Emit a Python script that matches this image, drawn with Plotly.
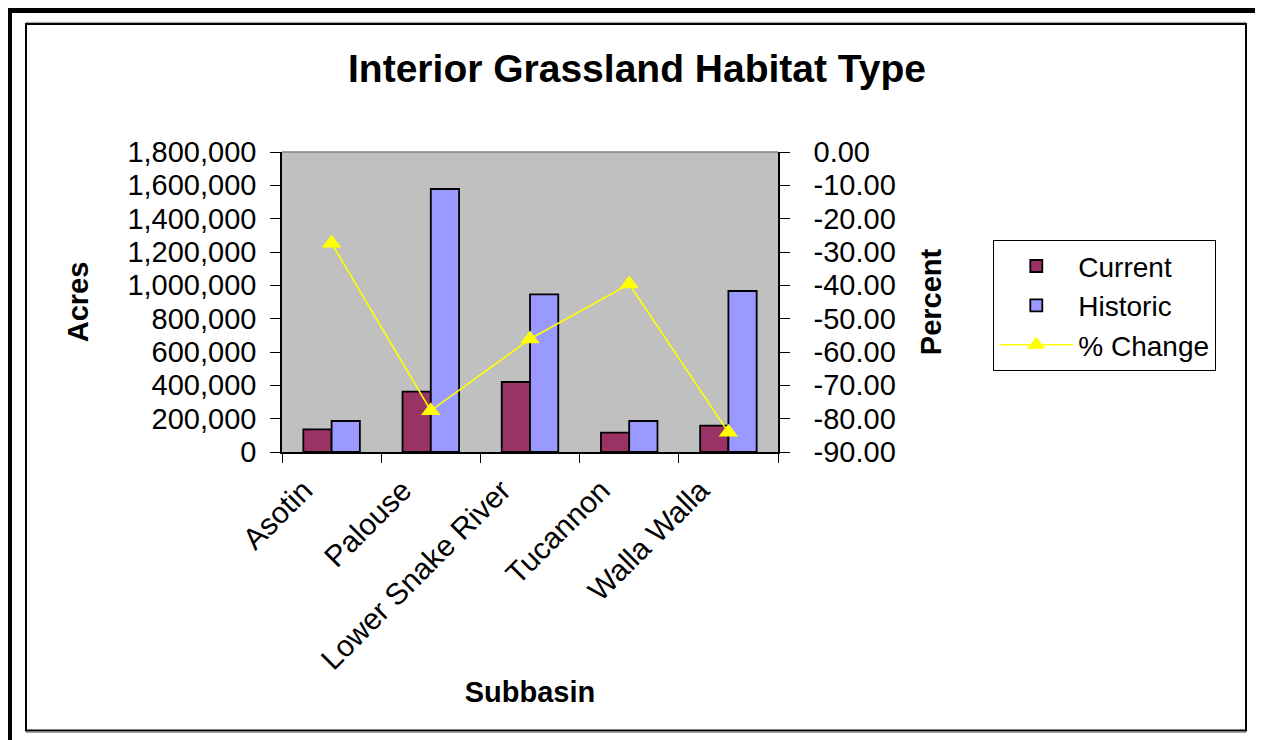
import plotly.graph_objects as go

# ---- data ----
subbasins = ["Asotin", "Palouse", "Lower Snake River", "Tucannon", "Walla Walla"]
current = [136000, 362000, 420000, 116000, 158000]
historic = [186000, 1578000, 946000, 186000, 966000]
pct_change = [-27.4, -77.6, -56.1, -39.6, -84.1]

acre_ticks = [0, 200000, 400000, 600000, 800000, 1000000, 1200000, 1400000, 1600000, 1800000]
acre_labels = ["0", "200,000", "400,000", "600,000", "800,000", "1,000,000",
               "1,200,000", "1,400,000", "1,600,000", "1,800,000"]
pct_ticks = [0, -10, -20, -30, -40, -50, -60, -70, -80, -90]
pct_labels = ["0.00", "-10.00", "-20.00", "-30.00", "-40.00", "-50.00",
              "-60.00", "-70.00", "-80.00", "-90.00"]

# ---- geometry (page body has an 8px margin) ----
OFF = 8
W, H = 1263 - OFF, 740 - OFF
L, R, T, B = 282, 778, 152, 452          # plot area in page pixels
PW, PH = R - L, B - T


def px(x):
    return (x - L) / PW


def py(y):
    return (B - y) / PH


FONT = "Liberation Sans, Arial, sans-serif"

fig = go.Figure()
fig.add_trace(go.Bar(
    x=subbasins, y=current, name="Current",
    marker=dict(color="#993366", line=dict(color="black", width=1.8)),
))
fig.add_trace(go.Bar(
    x=subbasins, y=historic, name="Historic",
    marker=dict(color="#9999FF", line=dict(color="black", width=1.8)),
))
fig.add_trace(go.Scatter(
    x=subbasins, y=pct_change, name="% Change", yaxis="y2",
    mode="lines+markers",
    line=dict(color="#FFFF00", width=1.6),
    marker=dict(symbol="triangle-up", size=17, color="#FFFF00"),
))

shapes = [
    # outer thick frame (top, left, right)
    dict(type="rect", xref="paper", yref="paper", x0=px(5), x1=px(1263), y0=py(7), y1=py(13),
         fillcolor="black", line=dict(width=0), layer="above"),
    dict(type="rect", xref="paper", yref="paper", x0=px(5), x1=px(12), y0=py(7), y1=py(741),
         fillcolor="black", line=dict(width=0), layer="above"),
    dict(type="rect", xref="paper", yref="paper", x0=px(1256), x1=px(1263), y0=py(7), y1=py(741),
         fillcolor="black", line=dict(width=0), layer="above"),
    # inner chart-area border with a light shadow
    dict(type="rect", xref="paper", yref="paper", x0=px(26), x1=px(1246), y0=py(24), y1=py(730.5),
         line=dict(color="black", width=2), layer="above"),
    dict(type="line", xref="paper", yref="paper", x0=px(26), x1=px(1246), y0=py(22.3), y1=py(22.3),
         line=dict(color="#A0A0A0", width=1), layer="above"),
    dict(type="line", xref="paper", yref="paper", x0=px(26), x1=px(1246), y0=py(732.5), y1=py(732.5),
         line=dict(color="#A0A0A0", width=1), layer="above"),
    # top border of plot area
    dict(type="line", xref="paper", yref="paper", x0=0, x1=1, y0=1, y1=1,
         line=dict(color="#808080", width=1.5), layer="above"),
]

fig.update_layout(
    width=W, height=H,
    margin=dict(l=L - OFF, r=W - (R - OFF), t=T - OFF, b=H - (B - OFF), pad=0),
    paper_bgcolor="white",
    plot_bgcolor="#C0C0C0",
    font=dict(family=FONT, size=29, color="black"),
    barmode="group",
    bargap=0.43,
    bargroupgap=0.0,
    title=dict(text="<b>Interior Grassland Habitat Type</b>", x=(637 - OFF) / W, xref="container",
               xanchor="center", y=1 - (68 - OFF) / H, yanchor="middle",
               font=dict(family=FONT, size=39, color="black")),
    xaxis=dict(
        type="category", tickson="boundaries", ticks="outside", ticklen=9, tickwidth=1.3,
        tickcolor="black", tickangle=-45, showline=True, linecolor="black", linewidth=1.5,
        showgrid=False, zeroline=False, tickfont=dict(size=30),
        ticklabelshift=-28, ticklabelstandoff=7,
        title=dict(text="<b>Subbasin</b>", font=dict(size=29), standoff=1),
    ),
    xaxis2=dict(
        overlaying="x", anchor="y", range=[-0.5, 4.5], tickmode="linear", tick0=-0.5, dtick=1,
        ticks="inside", ticklen=9, tickwidth=1.3, tickcolor="black", showticklabels=False,
        showline=False, showgrid=False, zeroline=False,
    ),
    yaxis=dict(
        range=[0, 1800000], tickmode="array", tickvals=acre_ticks, ticktext=acre_labels,
        ticks="outside", ticklen=10, tickwidth=1.3, tickcolor="black",
        showline=True, linecolor="black", linewidth=1.5, showgrid=False, zeroline=False,
        ticklabelstandoff=8,
        title=dict(text="<b>Acres</b>", font=dict(size=29), standoff=30),
    ),
    yaxis2=dict(
        overlaying="y", side="right", anchor="x", range=[-90, 0], tickmode="array",
        tickvals=pct_ticks, ticktext=pct_labels,
        ticks="outside", ticklen=10, tickwidth=1.3, tickcolor="black",
        showline=True, linecolor="black", linewidth=1.5, showgrid=False, zeroline=False,
        ticklabelstandoff=18,
        title=dict(text="<b>Percent</b>", font=dict(size=29), standoff=26),
    ),
    yaxis3=dict(
        overlaying="y", side="left", anchor="x", range=[0, 1800000], tickmode="array",
        tickvals=acre_ticks, ticks="inside", ticklen=9, tickwidth=1.3, tickcolor="black",
        showticklabels=False, showline=False, showgrid=False, zeroline=False,
    ),
    yaxis4=dict(
        overlaying="y", side="right", anchor="x", range=[-90, 0], tickmode="array",
        tickvals=pct_ticks, ticks="inside", ticklen=9, tickwidth=1.3, tickcolor="black",
        showticklabels=False, showline=False, showgrid=False, zeroline=False,
    ),
    legend=dict(
        x=px(993), y=py(240), xanchor="left", yanchor="top",
        bgcolor="white", bordercolor="black", borderwidth=1.3,
        font=dict(size=28), itemwidth=74,
    ),
    showlegend=True,
    shapes=shapes,
)

fig.write_html("out.html")
